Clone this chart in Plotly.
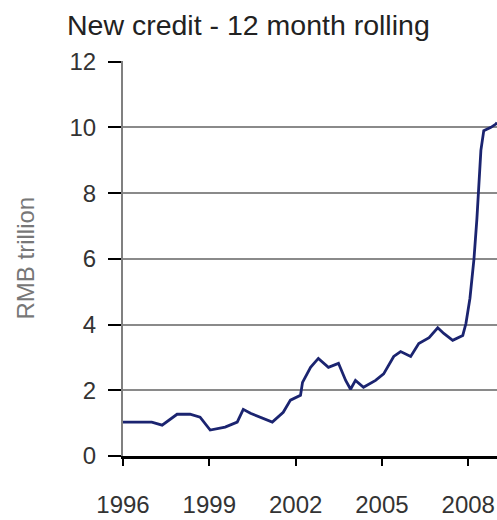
import plotly.graph_objects as go

years = [1996.0, 1996.5, 1997.0, 1997.36, 1997.88, 1998.33, 1998.68, 1999.03, 1999.55, 1999.97,
         2000.18, 2000.43, 2000.77, 2001.19, 2001.57, 2001.82, 2002.17, 2002.24, 2002.52, 2002.79,
         2003.14, 2003.49, 2003.74, 2003.91, 2004.08, 2004.36, 2004.78, 2005.06, 2005.41, 2005.65,
         2006.0, 2006.28, 2006.64, 2006.94, 2007.15, 2007.46, 2007.81, 2007.92, 2008.06, 2008.2,
         2008.3, 2008.37, 2008.44, 2008.54, 2008.79, 2008.96, 2009.0]
credit = [1.03, 1.03, 1.03, 0.94, 1.27, 1.27, 1.18, 0.79, 0.88, 1.03,
          1.42, 1.3, 1.18, 1.03, 1.33, 1.7, 1.85, 2.24, 2.7, 2.97,
          2.7, 2.82, 2.3, 2.03, 2.3, 2.09, 2.3, 2.5, 3.03, 3.18,
          3.03, 3.42, 3.6, 3.9, 3.73, 3.52, 3.67, 4.03, 4.8, 6.0,
          7.2, 8.3, 9.3, 9.9, 10.0, 10.1, 10.15]

x_ticks = [1996, 1999, 2002, 2005, 2008]
x_labels = ["1996", "1999", "2002", "2005", "2008"]
y_ticks = [0, 2, 4, 6, 8, 10, 12]

title_text = "New credit - 12 month rolling"
y_title = "RMB trillion"

regular = "Liberation Sans, Arial, sans-serif"

W, H = 497, 520

fig = go.Figure()
fig.add_trace(go.Scatter(x=years, y=credit, mode="lines",
                         line=dict(color="#1b2470", width=2.8)))

fig.update_layout(
    width=W, height=H,
    margin=dict(l=123, r=0, t=61, b=64),
    paper_bgcolor="white", plot_bgcolor="white",
    showlegend=False,
    title=dict(text=title_text, x=67/W, xanchor="left", xref="container",
               y=1-25/H, yref="container", yanchor="middle",
               font=dict(family=regular, size=28.5, color="#222")),
    xaxis=dict(range=[1996, 2009.0], tickvals=x_ticks, ticktext=x_labels,
               showgrid=False, zeroline=False, automargin=False,
               showline=True, linecolor="black", linewidth=2.5,
               ticks="outside", ticklen=7, tickwidth=2, tickcolor="black",
               ticklabelstandoff=18,
               tickfont=dict(family=regular, size=24, color="#333")),
    yaxis=dict(range=[0, 12.02], tickvals=y_ticks,
               showgrid=True, gridcolor="#8a8a8a", gridwidth=2,
               zeroline=False, automargin=False,
               showline=True, linecolor="#808080", linewidth=2,
               ticks="outside", ticklen=13, tickwidth=2, tickcolor="black",
               ticklabelstandoff=7,
               tickfont=dict(family=regular, size=24, color="#333")),
    annotations=[dict(text=y_title, xref="paper", yref="paper", x=0, y=0.5,
                      xshift=-98, textangle=-90, showarrow=False,
                      xanchor="center", yanchor="middle",
                      font=dict(family=regular, size=24, color="#777"))],
)

# remove the default page margin so the 497x520 figure fills the window exactly
fig.write_html("out.html",
               config={"displayModeBar": False},
               post_script="document.body.style.margin='0';document.body.style.overflow='hidden';")
